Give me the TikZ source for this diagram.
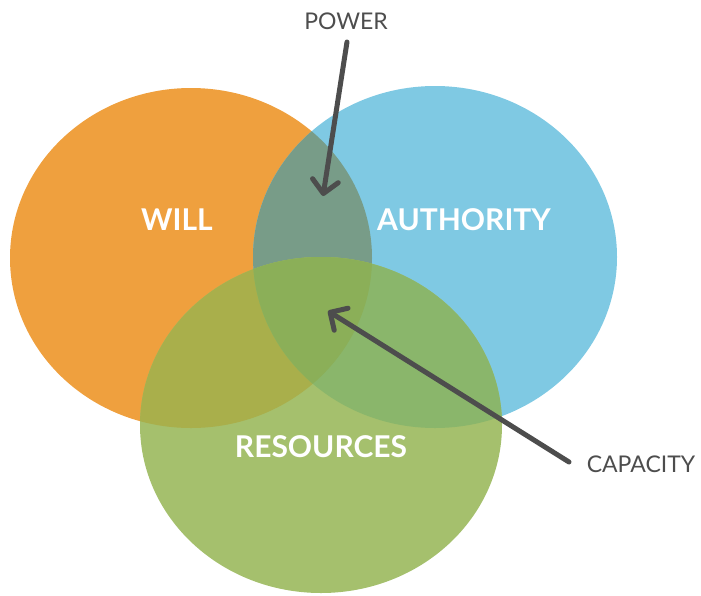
\documentclass[tikz,border=0pt]{standalone}
\usepackage{fontspec}
\setmainfont{Lato}
\usetikzlibrary{arrows.meta}
\definecolor{cOr}{HTML}{EFA03E}
\definecolor{cBl}{HTML}{7FC9E3}
\definecolor{cOB}{HTML}{789C88}
\definecolor{cGr}{HTML}{A5C06D}
\definecolor{cOG}{HTML}{A9AF4B}
\definecolor{cBG}{HTML}{8AB66B}
\definecolor{cOBG}{HTML}{8BAF58}
\definecolor{cArr}{HTML}{4D4D4D}
\tikzset{
  big/.style={text=white, font=\fontsize{30}{30}\selectfont\bfseries, inner sep=0pt},
  small/.style={text=cArr, font=\fontsize{23}{23}\selectfont, inner sep=0pt},
  pointer/.style={draw=cArr, line width=5pt, line cap=round,
    -{Straight Barb[length=13pt,width=26pt,round]}}
}
\begin{document}
\begin{tikzpicture}[x=1pt,y=-1pt]
\useasboundingbox (0,0) rectangle (701,595);
\def\orangeE{(191,258) ellipse [x radius=181, y radius=170]}
\def\blueE{(435,257) ellipse [x radius=182, y radius=171]}
\def\greenE{(321,425) ellipse [x radius=181, y radius=168]}
\fill[cOr] \orangeE;
\fill[cBl] \blueE;
\begin{scope}
  \clip \orangeE;
  \fill[cOB] \blueE;
\end{scope}
\fill[cGr] \greenE;
\begin{scope}
  \clip \greenE;
  \fill[cOG] \orangeE;
  \fill[cBG] \blueE;
  \clip \orangeE;
  \fill[cOBG] \blueE;
\end{scope}
\node[big] (will) at (177,220) {WILL};
\node[big] (auth) at (464,220) {AUTHORITY};
\node[big] (res) at (321,447) {RESOURCES};
\node[small] (power) at (346,21) {POWER};
\node[small] (cap) at (641,464) {CAPACITY};
\coordinate (powS) at (347,42);
\coordinate (powT) at (323,196);
\coordinate (capS) at (569,462);
\coordinate (capT) at (328,311);
\draw[pointer] (powS) -- (powT);
\draw[pointer] (capS) -- (capT);
\end{tikzpicture}
\end{document}
